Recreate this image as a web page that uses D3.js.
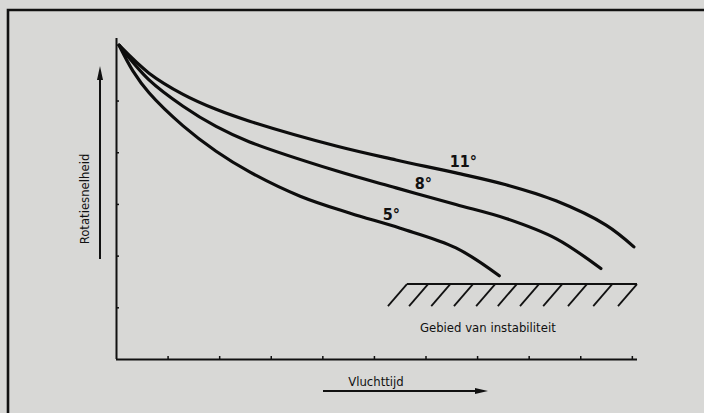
<!DOCTYPE html>
<html><head><meta charset="utf-8">
<script src="https://cdn.jsdelivr.net/npm/d3@7/dist/d3.min.js"></script>
<style>
html,body{margin:0;padding:0;background:#d8d8d6;}
svg{display:block;}
text{font-family:"DejaVu Sans Condensed","DejaVu Sans",sans-serif;fill:#111;}
</style></head>
<body><svg id="c" width="704" height="413"></svg>
<script>
// ---- data (x = Vluchttijd units, y = Rotatiesnelheid units) ----
const xTicks = [1,2,3,4,5,6,7,8,9,10];
const yTicks = [1,2,3,4,5];
const seriesNames = ["5°","8°","11°"];
const x5  = [0.06,0.33,0.64,1.30,1.94,2.59,3.57,4.54,5.51,6.59,7.43];
const y5  = [6.07,5.57,5.15,4.51,4.02,3.62,3.15,2.82,2.53,2.15,1.61];
const x8  = [0.06,0.64,1.30,1.94,2.59,4.27,5.43,6.59,7.56,8.53,9.40];
const y8  = [6.07,5.40,4.89,4.50,4.20,3.64,3.31,2.99,2.72,2.33,1.75];
const x11 = [0.06,0.64,1.30,1.94,2.59,4.27,5.43,6.59,7.56,8.53,9.50,10.04];
const y11 = [6.07,5.53,5.12,4.83,4.60,4.12,3.85,3.60,3.37,3.06,2.59,2.17];
const labelX = [5.17,5.79,6.47];
const labelY = [2.69,3.28,3.72];
const instabY = 1.45;
const instabX0 = 5.64, instabX1 = 10.10;
const hatchX = [5.64,6.05,6.48,6.92,7.35,7.77,8.20,8.65,9.13,9.62,10.10];

(function(){
const svg = d3.select("#c");
const mL = 116, mR = 637, mT = 38, mB = 359;
const x = d3.scaleLinear().domain([0,10.1]).range([mL,mR]);
const y = d3.scaleLinear().domain([0,6.21]).range([mB,mT]);

// frame
svg.append("path").attr("d","M8,413 L8,10 L704,10")
  .attr("fill","none").attr("stroke","#111").attr("stroke-width",2.6);

// axes
const gx = svg.append("g").attr("transform",`translate(0,${mB})`)
  .call(d3.axisBottom(x).tickValues(xTicks).tickSize(-3).tickFormat(""));
const gy = svg.append("g").attr("transform",`translate(${mL},0)`)
  .call(d3.axisLeft(y).tickValues(yTicks).tickSize(-3).tickFormat(""));
[gx,gy].forEach(g=>{
  g.select(".domain").attr("stroke","#111").attr("stroke-width",2);
  g.selectAll(".tick line").attr("stroke","#111").attr("stroke-width",1.5);
});
gx.select(".domain").attr("d",`M${mL},0.5H${mR}`);
gy.select(".domain").attr("d",`M0.5,${mB}V${mT}`);

// curves
const line = d3.line().x(d=>x(d[0])).y(d=>y(d[1])).curve(d3.curveCatmullRom.alpha(0.5));
const series = [d3.zip(x5,y5), d3.zip(x8,y8), d3.zip(x11,y11)];
svg.selectAll("path.curve").data(series).join("path").attr("class","curve")
  .attr("d",line).attr("fill","none").attr("stroke","#0d0d0d")
  .attr("stroke-width",3.2).attr("stroke-linecap","round");

// curve labels
svg.selectAll("text.lab").data(seriesNames).join("text").attr("class","lab")
  .attr("x",(d,i)=>x(labelX[i])).attr("y",(d,i)=>y(labelY[i]))
  .attr("font-size",16).attr("font-weight","bold").text(d=>d);

// instability region
svg.append("line").attr("x1",x(instabX0)).attr("x2",x(instabX1))
  .attr("y1",y(instabY)).attr("y2",y(instabY)).attr("stroke","#111").attr("stroke-width",2);
svg.selectAll("line.hatch").data(hatchX).join("line").attr("class","hatch")
  .attr("x1",d=>x(d)).attr("y1",y(instabY))
  .attr("x2",d=>x(d)-19).attr("y2",y(instabY)+22)
  .attr("stroke","#111").attr("stroke-width",1.8);
svg.append("text").attr("x",x(instabX0)+13).attr("y",y(instabY)+48)
  .attr("font-size",13).text("Gebied van instabiliteit");

// y label + arrow
svg.append("text").attr("transform","translate(89,199) rotate(-90)")
  .attr("text-anchor","middle").attr("font-size",13).text("Rotatiesnelheid");
svg.append("line").attr("x1",100).attr("x2",100).attr("y1",259).attr("y2",76)
  .attr("stroke","#111").attr("stroke-width",2);
svg.append("path").attr("d","M100,66 L103,80 L97,80 Z").attr("fill","#111");

// x label + arrow
svg.append("text").attr("x",376).attr("y",386).attr("text-anchor","middle")
  .attr("font-size",13).text("Vluchttijd");
svg.append("line").attr("x1",323).attr("x2",478).attr("y1",391).attr("y2",391)
  .attr("stroke","#111").attr("stroke-width",2);
svg.append("path").attr("d","M488,391 L475,388 L475,394 Z").attr("fill","#111");
})();
</script></body></html>
